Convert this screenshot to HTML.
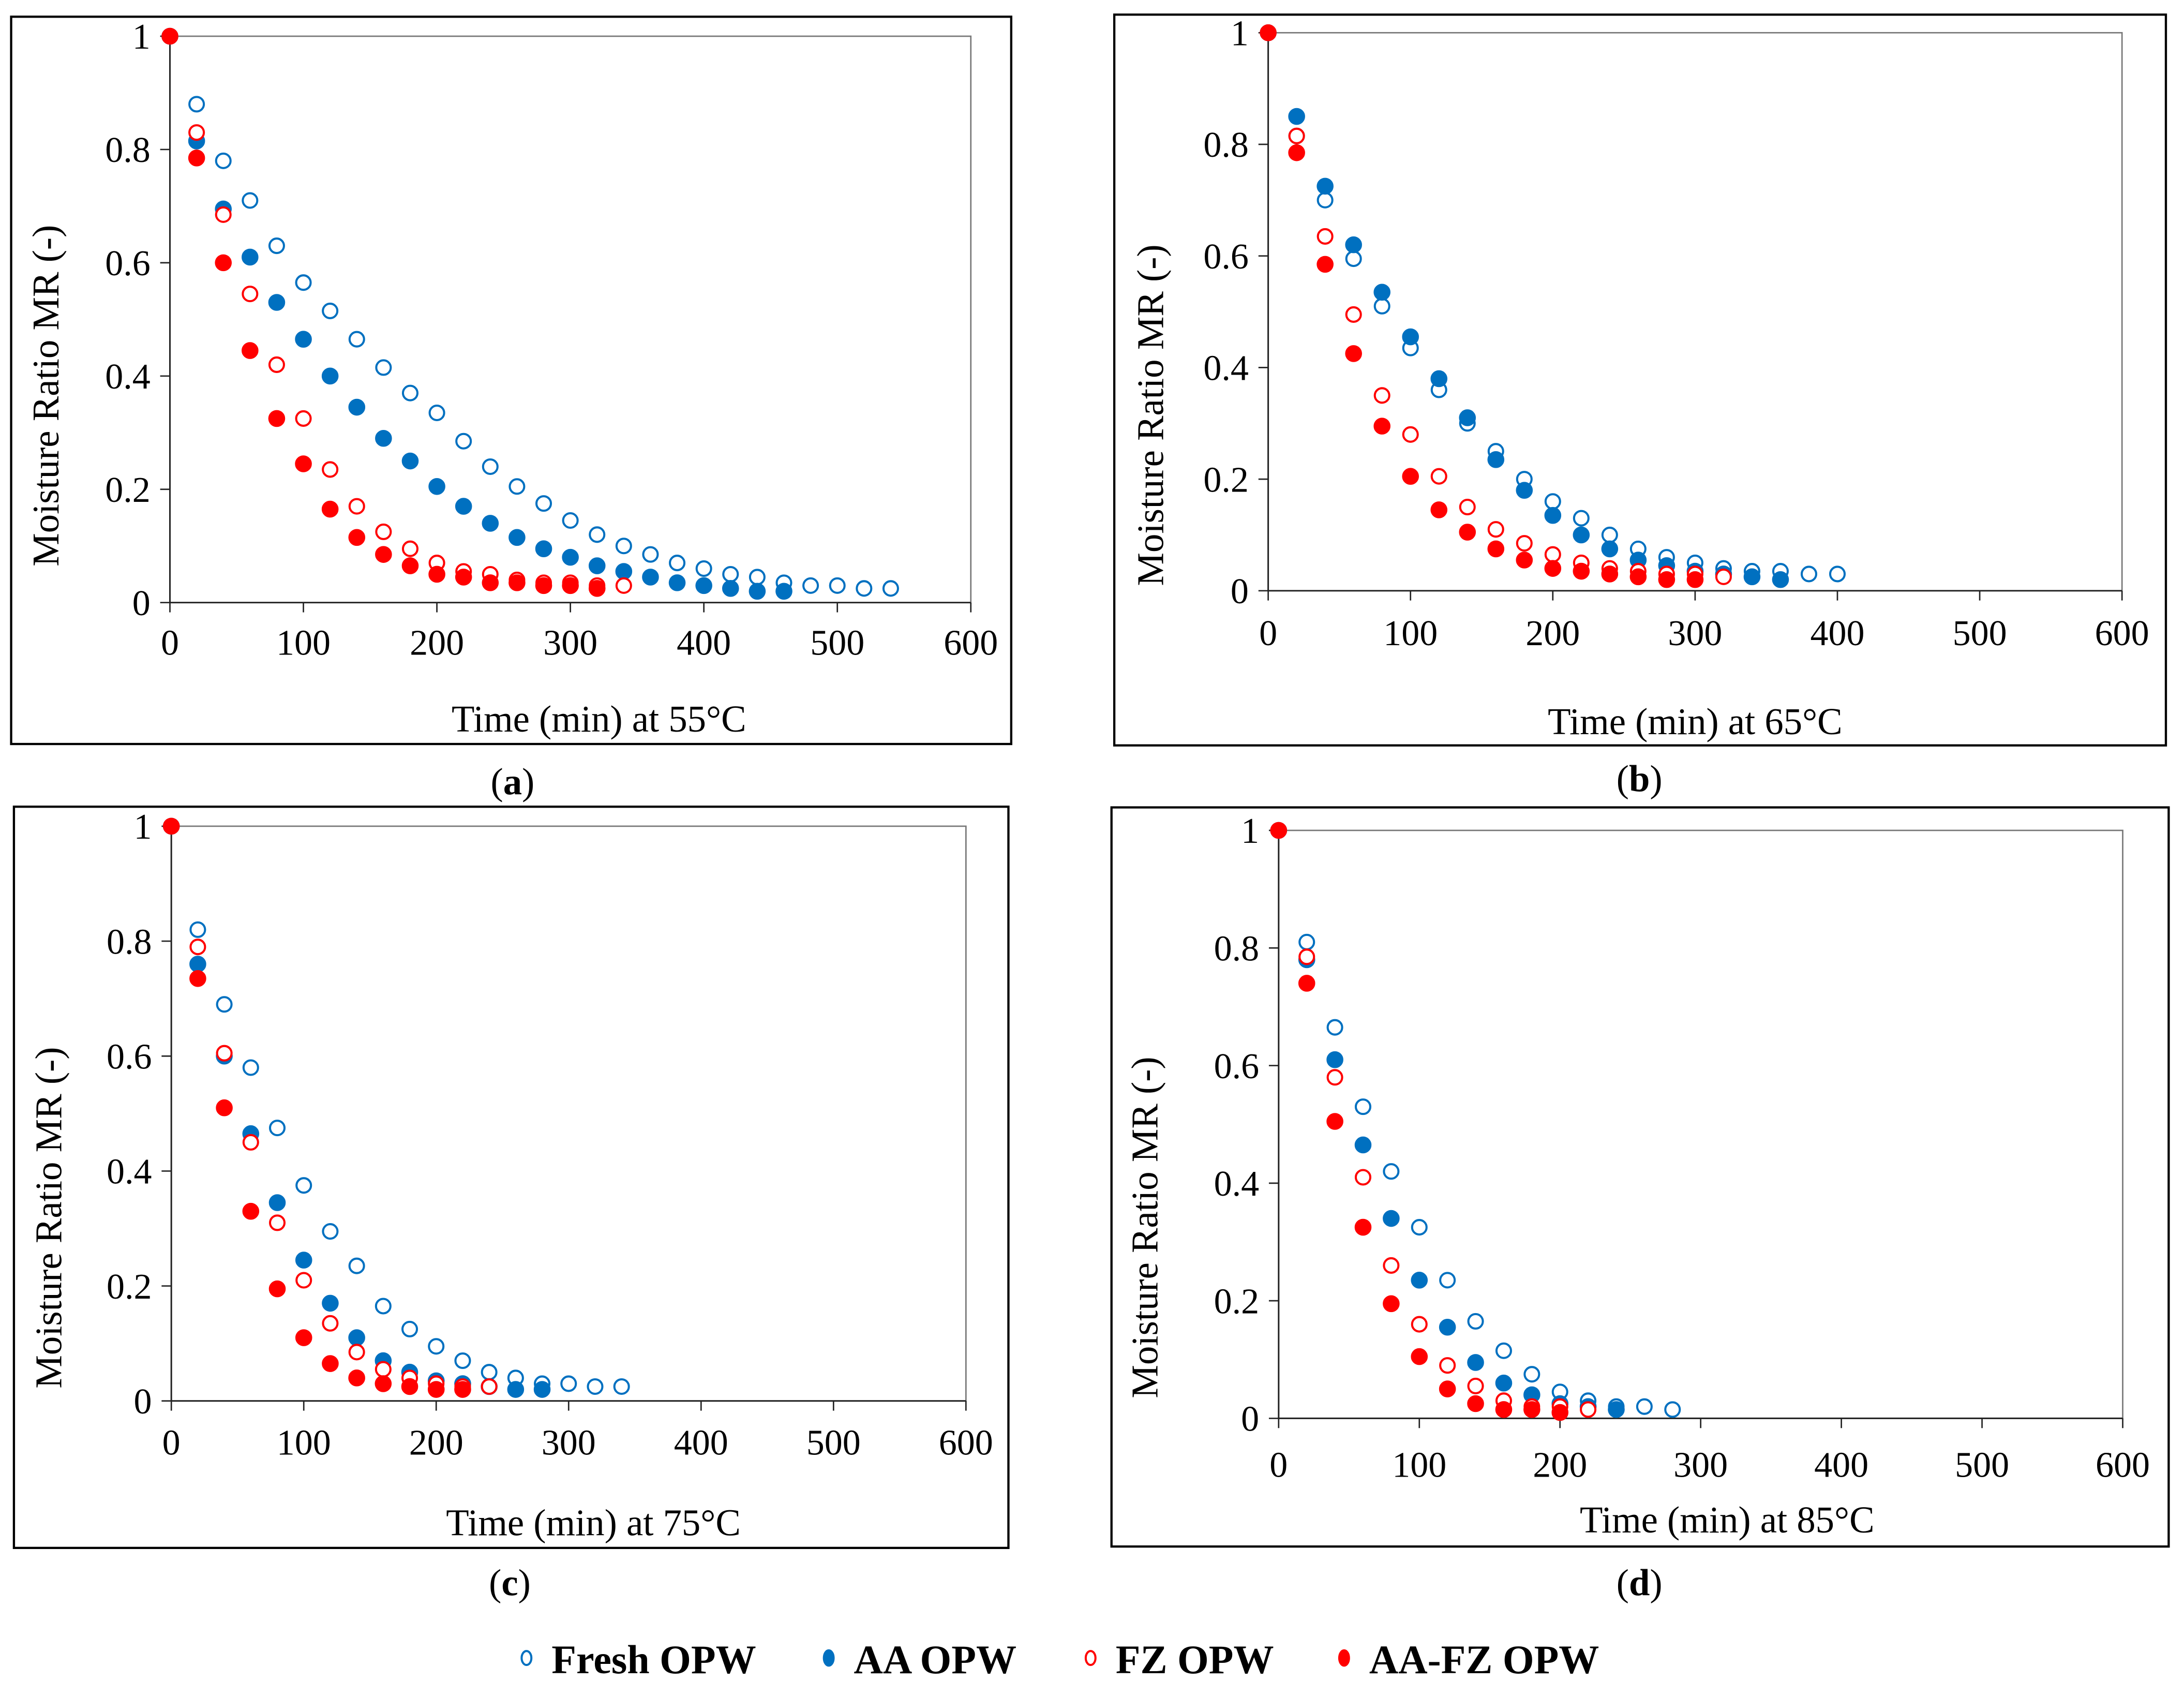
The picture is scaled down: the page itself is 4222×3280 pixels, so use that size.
<!DOCTYPE html>
<html><head><meta charset="utf-8">
<style>
html,body{margin:0;padding:0;background:#fff;}
svg{display:block;}
text{font-family:"Liberation Serif","DejaVu Serif",serif;fill:#000;}
</style></head>
<body>
<svg id="fig" xmlns="http://www.w3.org/2000/svg" width="4222" height="3280" viewBox="0 0 1568 1218" preserveAspectRatio="none">
<rect x="0" y="0" width="1568" height="1218" fill="#fff"/>
</svg>
<script>
// time axis (min)
const timesA = [0,20,40,60,80,100,120,140,160,180,200,220,240,260,280,300,320,340,360,380,400,420,440,460,480,500,520,540];
// Panel (a) 55°C
const aFresh = [1,0.88,0.78,0.71,0.63,0.565,0.515,0.465,0.415,0.37,0.335,0.285,0.24,0.205,0.175,0.145,0.12,0.1,0.085,0.07,0.06,0.05,0.045,0.035,0.03,0.03,0.025,0.025];
const aAA = [1,0.815,0.695,0.61,0.53,0.465,0.4,0.345,0.29,0.25,0.205,0.17,0.14,0.115,0.095,0.08,0.065,0.055,0.045,0.035,0.03,0.025,0.02,0.02];
const aFZ = [1,0.83,0.685,0.545,0.42,0.325,0.235,0.17,0.125,0.095,0.07,0.055,0.05,0.04,0.035,0.035,0.03,0.03];
const aAAFZ = [1,0.785,0.6,0.445,0.325,0.245,0.165,0.115,0.085,0.065,0.05,0.045,0.035,0.035,0.03,0.03,0.025];
// Panel (b) 65°C
const bFresh = [1,0.815,0.70,0.595,0.51,0.435,0.36,0.30,0.25,0.2,0.16,0.13,0.10,0.075,0.06,0.05,0.04,0.035,0.035,0.03,0.03];
const bAA = [1,0.85,0.725,0.62,0.535,0.455,0.38,0.31,0.235,0.18,0.135,0.10,0.075,0.055,0.045,0.035,0.03,0.025,0.02];
const bFZ = [1,0.815,0.635,0.495,0.35,0.28,0.205,0.15,0.11,0.085,0.065,0.05,0.04,0.035,0.03,0.03,0.025];
const bAAFZ = [1,0.785,0.585,0.425,0.295,0.205,0.145,0.105,0.075,0.055,0.04,0.035,0.03,0.025,0.02,0.02];
// Panel (c) 75°C
const cFresh = [1,0.82,0.69,0.58,0.475,0.375,0.295,0.235,0.165,0.125,0.095,0.07,0.05,0.04,0.03,0.03,0.025,0.025];
const cAA = [1,0.76,0.6,0.465,0.345,0.245,0.17,0.11,0.07,0.05,0.035,0.03,0.025,0.02,0.02];
const cFZ = [1,0.79,0.605,0.45,0.31,0.21,0.135,0.085,0.055,0.04,0.03,0.025,0.025];
const cAAFZ = [1,0.735,0.51,0.33,0.195,0.11,0.065,0.04,0.03,0.025,0.02,0.02];
// Panel (d) 85°C
const dFresh = [1,0.81,0.665,0.53,0.42,0.325,0.235,0.165,0.115,0.075,0.045,0.03,0.02,0.02,0.015];
const dAA = [1,0.78,0.61,0.465,0.34,0.235,0.155,0.095,0.06,0.04,0.025,0.02,0.015];
const dFZ = [1,0.785,0.58,0.41,0.26,0.16,0.09,0.055,0.03,0.02,0.02,0.015];
const dAAFZ = [1,0.74,0.505,0.325,0.195,0.105,0.05,0.025,0.015,0.015,0.01];
const xTicks = [0,100,200,300,400,500,600];
const yTicks = [0,0.2,0.4,0.6,0.8,1];
const yTickLabels = ["0","0.2","0.4","0.6","0.8","1"];
const seriesNames = ["Fresh OPW","AA OPW","FZ OPW","AA-FZ OPW"];

const NS = "http://www.w3.org/2000/svg";
const svg = document.getElementById("fig");
function mk(tag, attrs, parent){const e=document.createElementNS(NS,tag);for(const k in attrs)e.setAttribute(k,attrs[k]);if(tag==="text")e.style.fontFamily='"Liberation Serif", "DejaVu Serif", serif';(parent||svg).appendChild(e);return e;}

const panels = [
 {id:"a",frame:[8,12,726,534],x0:122,x1:697,yT:26,yB:432.5,ytx:33,yty:284,title:"Time (min) at 55°C",tx:430,ty:525,cap:[368,570],data:[aFresh,aAA,aFZ,aAAFZ],lab:461},
 {id:"b",frame:[800,10.5,1555,535],x0:910.5,x1:1523.5,yT:23.5,yB:424,ytx:826,yty:298,title:"Time (min) at 65°C",tx:1217,ty:527,cap:[1177,568],data:[bFresh,bAA,bFZ,bAAFZ],lab:454},
 {id:"c",frame:[10,579,724,1111],x0:123,x1:693.5,yT:593,yB:1005.5,ytx:35,yty:874,title:"Time (min) at 75°C",tx:426,ty:1102,cap:[366,1145],data:[cFresh,cAA,cFZ,cAAFZ],lab:1035},
 {id:"d",frame:[798,579.5,1557,1110],x0:918,x1:1524,yT:596,yB:1018,ytx:822,yty:881,title:"Time (min) at 85°C",tx:1240,ty:1100,cap:[1177,1145],data:[dFresh,dAA,dFZ,dAAFZ],lab:1051}
];
const styles = [
 {fill:"#fff",stroke:"#0070C0"},
 {fill:"#0070C0",stroke:"#0070C0"},
 {fill:"#fff",stroke:"#FF0000"},
 {fill:"#FF0000",stroke:"#FF0000"}
];
const sKeys=["fresh","aa","fz","aa-fz"];

panels.forEach(p=>{
  const g=mk("g",{});
  
  
  const xs=t=>p.x0+(t/600)*(p.x1-p.x0);
  const ys=v=>p.yB-v*(p.yB-p.yT);
  const f=p.frame;
  const fr=mk("rect",{x:f[0],y:f[1],width:f[2]-f[0],height:f[3]-f[1],fill:"none",stroke:"#000","stroke-width":1.6},g);
  
  
  const pa=mk("rect",{x:p.x0,y:p.yT,width:p.x1-p.x0,height:p.yB-p.yT,fill:"none",stroke:"#777","stroke-width":1},g);
  
  
  const ya=mk("line",{x1:p.x0,y1:p.yT,x2:p.x0,y2:p.yB,stroke:"#222","stroke-width":1.1},g);
  
  
  const xa=mk("line",{x1:p.x0,y1:p.yB,x2:p.x1,y2:p.yB,stroke:"#222","stroke-width":1.1},g);
  
  
  yTicks.forEach((v,i)=>{
    mk("line",{x1:p.x0-7,y1:ys(v),x2:p.x0,y2:ys(v),stroke:"#222","stroke-width":1},g);
    const t=mk("text",{x:p.x0-14,y:ys(v)+9,"text-anchor":"end","font-size":26},g);
    t.textContent=yTickLabels[i];
    
    
  });
  xTicks.forEach(v=>{
    mk("line",{x1:xs(v),y1:p.yB,x2:xs(v),y2:p.yB+7,stroke:"#222","stroke-width":1},g);
    const t=mk("text",{x:xs(v),y:p.lab+9,"text-anchor":"middle","font-size":26},g);
    t.textContent=String(v);
    
    
  });
  const xt=mk("text",{x:p.tx,y:p.ty,"text-anchor":"middle","font-size":27},g);
  xt.textContent=p.title;
  
  
  const yt=mk("text",{x:0,y:0,"text-anchor":"middle","font-size":27,transform:`translate(${p.ytx+9},${p.yty}) rotate(-90)`},g);
  yt.textContent="Moisture Ratio MR (-)";
  
  
  const cp=mk("text",{x:p.cap[0],y:p.cap[1],"text-anchor":"middle","font-size":27},g);
  cp.innerHTML='(<tspan font-weight="bold">'+p.id+'</tspan>)';
  
  
  p.data.forEach((arr,si)=>{
    const sg=mk("g",{},g);
    
    
    arr.forEach((v,i)=>{
      const open=styles[si].fill==="#fff";
      const c=mk("circle",{cx:xs(timesA[i]),cy:ys(v),r:open?5.2:5.8,fill:styles[si].fill,stroke:styles[si].stroke,"stroke-width":open?1.5:0.5},sg);
      
      
    });
  });
});

// legend
const lg=mk("g",{});


const legX=[378,595,783,965];
seriesNames.forEach((n,i)=>{
  const e=mk("g",{},lg);
  
  
  const open=styles[i].fill==="#fff";
  mk("ellipse",{cx:legX[i],cy:1190,rx:open?3.5:4,ry:open?5:6,fill:styles[i].fill,stroke:styles[i].stroke,"stroke-width":open?1.5:0.5},e);
  const t=mk("text",{x:legX[i]+18,y:1201,"font-size":29,"font-weight":"bold"},e);
  t.textContent=n;
});
</script>
</body></html>
